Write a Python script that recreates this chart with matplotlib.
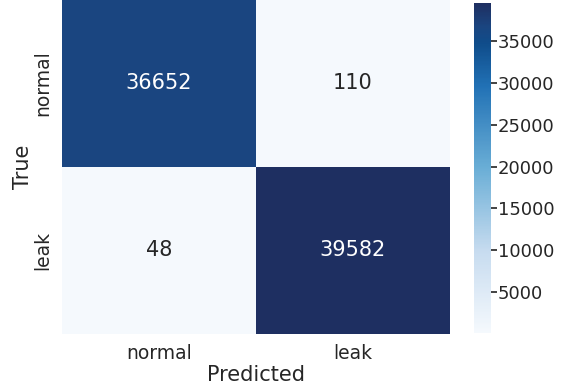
import matplotlib
matplotlib.use("Agg")
import matplotlib.pyplot as plt
from matplotlib.colors import LinearSegmentedColormap
import seaborn as sns
import numpy as np

labels = ["normal", "leak"]
cm = np.array([[36652, 110],
               [48, 39582]])
cbar_ticks = [5000, 10000, 15000, 20000, 25000, 30000, 35000]

sns.set_theme(style="white")
plt.rcParams['font.family'] = ['DejaVu Sans']

# Blues, with the dark end a little greyer as in the reference
cmap = LinearSegmentedColormap.from_list("blues_ref", [
    (0.0, "#f5f9fd"), (0.25, "#c6dbef"), (0.5, "#6aaed6"), (0.75, "#2171b5"),
    (0.88, "#0f4c8a"), (0.93, "#1a4580"), (1.0, "#1e2f61")])

fig = plt.figure(figsize=(5.61, 3.86), dpi=100)
ax = fig.add_axes([0.1105, 0.135, 0.6915, 0.865])
cax = fig.add_axes([0.845, 0.137, 0.030, 0.855])

sns.heatmap(cm, annot=True, fmt="d", cmap=cmap, ax=ax, cbar_ax=cax,
            xticklabels=labels, yticklabels=labels,
            annot_kws={"size": 15})
ax.set_xlabel("Predicted", fontsize=15, labelpad=2)
ax.set_ylabel("True", fontsize=15, labelpad=0)
ax.tick_params(axis="both", labelsize=13.5, length=0, pad=7)
cax.tick_params(labelsize=13, length=4, width=1.2, color="#222222", pad=1)
cax.yaxis.set_ticks(cbar_ticks)

fig.savefig("out.png", dpi=100)
